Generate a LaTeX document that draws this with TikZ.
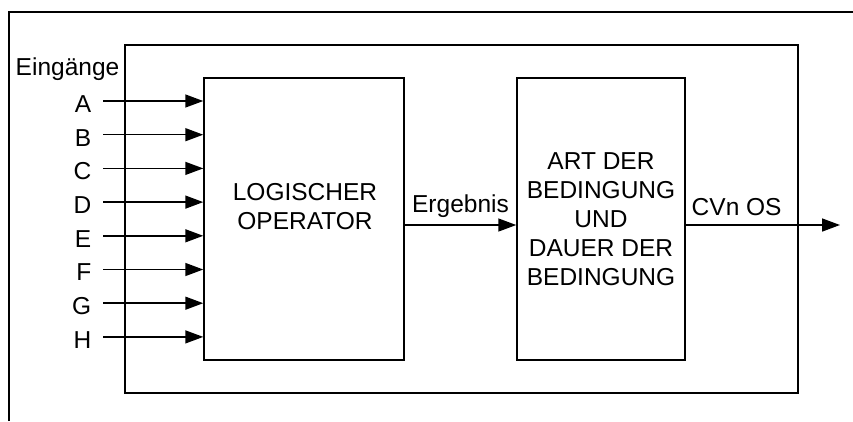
\documentclass[tikz,border=0pt]{standalone}
\usepackage{fontspec}
\setmainfont{Liberation Sans}
\usetikzlibrary{arrows.meta,positioning}

\begin{document}
\begin{tikzpicture}[x=1pt,y=-1pt,line width=1.5pt,>={Triangle[length=18pt,width=13pt]},
  box/.style={draw,minimum width=#1,minimum height=282pt,inner sep=0pt},
  txt/.style={font=\fontsize{24.5}{29}\selectfont,inner sep=0pt,align=center}]
\useasboundingbox (0,0) rectangle (853,421);
% frames
\draw (9,421) -- (9,12) -- (853,12);
\draw (125,45) rectangle (798,393);
% blocks
\node[box=200pt] (op) at (304,219) {};
\node[box=168pt] (cond) at (601,219) {};
\node[txt] (optxt) at (305,207) {LOGISCHER\\OPERATOR};
\node[txt] (condtxt) at (cond.center) {ART DER\\BEDINGUNG\\UND\\DAUER DER\\BEDINGUNG};
% inputs
\node[txt,anchor=west] (ein) at (15,69) {Eingänge};
\foreach \l [count=\i] in {A,B,C,D,E,F,G,H} {
  \coordinate (s\l) at (103,{101+33.7*(\i-1)});
  \node[txt,left=11pt of s\l,yshift=-3pt] (in\l) {\l};
  \draw[->] (s\l) -- (s\l -| op.west);
}
% result and output
\coordinate (out) at (840,225);
\draw[->] ([yshift=-6pt]op.east) -- node[txt,above=7pt] (erg) {Ergebnis} ([yshift=-6pt]cond.west);
\draw[->] ([yshift=-6pt]cond.east) -- node[txt,above=9pt,pos=0.33] (cvn) {CVn OS} (out);
\end{tikzpicture}
\end{document}
